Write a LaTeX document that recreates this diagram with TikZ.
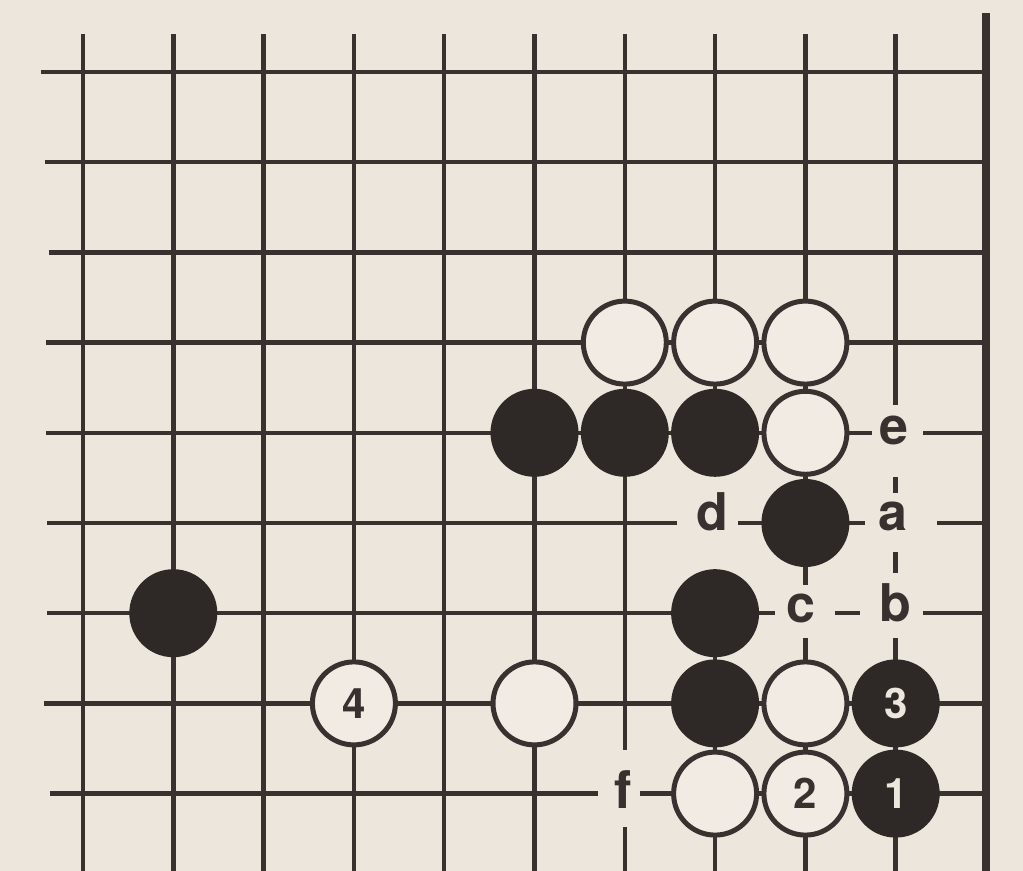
\documentclass[tikz,border=0pt]{standalone}
\usepackage{fontspec}
\setmainfont{TeX Gyre Heros}
\definecolor{bg}{HTML}{EDE6DC}
\definecolor{ink}{HTML}{383130}
\definecolor{stoneblack}{HTML}{2E2826}
\definecolor{stonewhite}{HTML}{F1EBE3}
\begin{document}
\begin{tikzpicture}[x=90.3pt,y=-90.2pt,
  gridline/.style={draw=ink,line width=4.5pt},
  edgeline/.style={draw=ink,line width=8pt},
  wstone/.style={circle,draw=ink,fill=stonewhite,line width=5pt,minimum size=83pt,inner sep=0pt,
    font=\fontsize{42}{42}\selectfont\bfseries,text=ink},
  bstone/.style={circle,draw=stoneblack,fill=stoneblack,line width=5pt,minimum size=83pt,inner sep=0pt,
    font=\fontsize{42}{42}\selectfont\bfseries,text=bg},
  ptlabel/.style={inner sep=0pt,font=\fontsize{52}{52}\selectfont\bfseries,text=ink},
  maskbox/.style={fill=bg}
]
% background and bounding box
\path[use as bounding box,fill=bg] (-0.9192,-0.7982) rectangle (10.4097,8.8581);

% grid
\foreach \r/\s in {0/-0.47,1/-0.42,2/-0.38,3/-0.41,4/-0.41,5/-0.40,6/-0.40,7/-0.43,8/-0.37}
  \draw[gridline] (\s,\r) -- (10,\r);
\foreach \c in {0,...,9}
  \draw[gridline] (\c,-0.42) -- (\c,8.8581);
\draw[edgeline] (10,-0.654) -- (10,8.8581);

% masks behind letters
\fill[maskbox] ([shift={(-24pt,28pt)}]9,4) rectangle ([shift={(27pt,-44pt)}]9,4);
\fill[maskbox] ([shift={(-31pt,30pt)}]9,5) rectangle ([shift={(41pt,-29pt)}]9,5);
\fill[maskbox] ([shift={(-36pt,40pt)}]9,6) rectangle ([shift={(27pt,-25pt)}]9,6);
\fill[maskbox] ([shift={(-30pt,28pt)}]8,6) rectangle ([shift={(30pt,-25pt)}]8,6);
\fill[maskbox] ([shift={(-38pt,47pt)}]7,5) rectangle ([shift={(23pt,-46pt)}]7,5);
\fill[maskbox] ([shift={(-27pt,44pt)}]6,8) rectangle ([shift={(15pt,-33pt)}]6,8);

% letters
\node[ptlabel] (le) at ([shift={(-2pt,2pt)}]9,4) {e};
\node[ptlabel] (la) at ([shift={(-3pt,7pt)}]9,5) {a};
\node[ptlabel] (lb) at ([shift={(0pt,10pt)}]9,6) {b};
\node[ptlabel] (lc) at ([shift={(-4pt,5pt)}]8,6) {c};
\node[ptlabel] (ld) at ([shift={(-3pt,11pt)}]7,5) {d};
\node[ptlabel] (lf) at ([shift={(-2pt,4pt)}]6,8) {f};

% white stones
\node[wstone] (w1) at (6,3) {};
\node[wstone] (w2) at (7,3) {};
\node[wstone] (w3) at (8,3) {};
\node[wstone] (w4) at (8,4) {};
\node[wstone] (w5) at (5,7) {};
\node[wstone] (w6) at (8,7) {};
\node[wstone] (w7) at (7,8) {};
\node[wstone] (w8) at (8,8) {2};
\node[wstone] (w9) at (3,7) {4};

% black stones
\node[bstone] (b1) at (5,4) {};
\node[bstone] (b2) at (6,4) {};
\node[bstone] (b3) at (7,4) {};
\node[bstone] (b4) at (8,5) {};
\node[bstone] (b5) at (7,6) {};
\node[bstone] (b6) at (7,7) {};
\node[bstone] (b7) at (9,7) {3};
\node[bstone] (b8) at (9,8) {1};
\node[bstone] (b9) at (1,6) {};
\end{tikzpicture}
\end{document}
